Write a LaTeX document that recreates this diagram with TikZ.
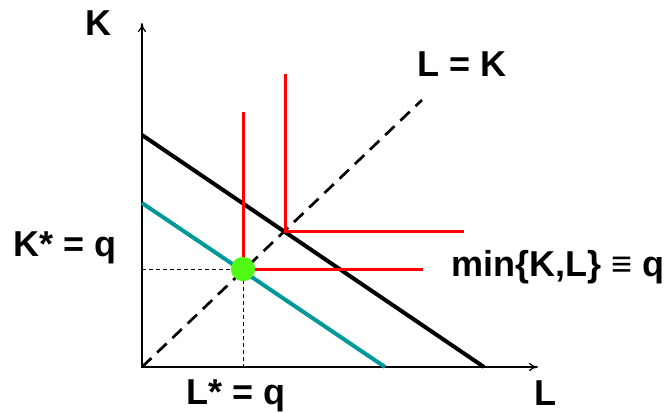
\documentclass[tikz,border=0pt]{standalone}
\usepackage{fontspec}
\setmainfont{Liberation Sans}
\usetikzlibrary{arrows.meta, calc}
\definecolor{isoTeal}{RGB}{0,153,153}
\definecolor{optGreen}{RGB}{80,250,20}

\begin{document}
\begin{tikzpicture}[x=1pt, y=-1pt, >={To[length=9pt, width=8pt]}, every node/.style={font=\fontsize{36}{40}\selectfont\bfseries, inner sep=0pt}]
  \useasboundingbox (0,0) rectangle (666,412);
  % points
  \coordinate (O) at (142,367);
  \coordinate (Ktip) at (142,23);
  \coordinate (Ltip) at (538,367);
  \node[circle, fill=optGreen, minimum size=24pt] (opt) at (243,269) {};
  \coordinate (corner) at (285,231);
  % guides to the axes
  \draw[dash pattern=on 4pt off 3pt, line width=1pt] (O |- opt) -- (opt.center) -- (opt.center |- O);
  % axes
  \draw[<->, line width=1.2pt] (Ktip) |- (Ltip);
  % budget lines
  \draw[isoTeal, line width=4pt] (142,203) -- (385,367);
  \draw[line width=4pt] (142,135) -- (484,367);
  % L = K ray
  \draw[line width=2.7pt, dash pattern=on 13pt off 8pt] (O) -- (422,100);
  % isoquants
  \draw[red, line width=3pt] (243,112) -- (opt.center) -- (423,269);
  \draw[red, line width=3pt] (285,74) -- (corner) -- (464,231);
  \node[circle, fill=optGreen, minimum size=24pt] at (opt) {};
  % labels
  \node[anchor=base] (kLab) at (98,36) {K};
  \node[anchor=base] (lLab) at (545,405) {L};
  \node[anchor=base] (rayLab) at (462,76) {L = K};
  \node[anchor=base] (kStar) at (65,256) {K* = q};
  \node[anchor=base] (lStar) at (236,404) {L* = q};
  \node[anchor=base west] (isoLab) at (451,276) {min\{K,L\} ≡ q};
\end{tikzpicture}
\end{document}
